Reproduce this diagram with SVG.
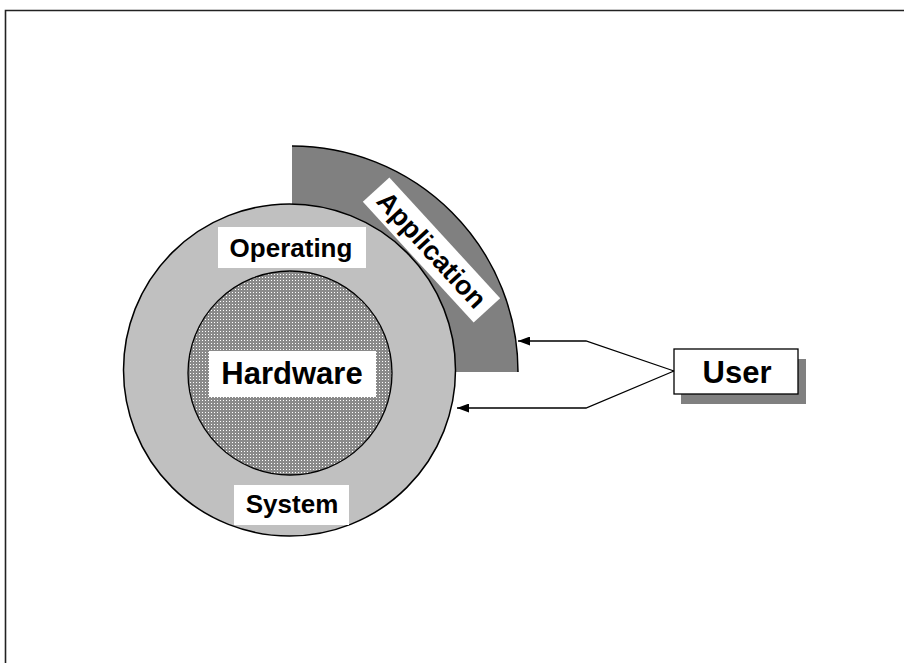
<svg xmlns="http://www.w3.org/2000/svg" width="904" height="663" viewBox="0 0 904 663">
  <defs>
    <pattern id="dots" width="3" height="3" patternUnits="userSpaceOnUse">
      <rect width="3" height="3" fill="#8a8a8a"/>
      <rect x="1" y="1" width="1" height="1" fill="#ffffff"/>
    </pattern>
    <marker id="arrow" viewBox="0 0 12 9" refX="12" refY="4.5" markerWidth="12" markerHeight="9" markerUnits="userSpaceOnUse" orient="auto">
      <path d="M0,0 L12,4.5 L0,9 Z" fill="#000"/>
    </marker>
    <style>
      .lbl { font-family: "Liberation Sans", Arial, sans-serif; font-weight: bold; fill: #000; text-anchor: middle; }
      .box { fill: #ffffff; }
      .edge { fill: none; stroke: #000; stroke-width: 1.3; }
    </style>
  </defs>
  <rect width="904" height="663" fill="#ffffff"/>
  <g id="frame">
    <path d="M5.5,663 L5.5,10.5 L904,10.5" fill="none" stroke="#222" stroke-width="1.6"/>
  </g>
  <g id="application">
    <path d="M292,372 L292,146 A226,226 0 0 1 518,372 Z" fill="#808080"/>
    <path d="M292,146 A226,226 0 0 1 518,372" fill="none" stroke="#000" stroke-width="1.5"/>
  </g>
  <g id="os">
    <circle cx="289.5" cy="370" r="166" fill="#c0c0c0" stroke="#000" stroke-width="1.5"/>
  </g>
  <g id="hardware">
    <circle cx="290" cy="373" r="102" fill="url(#dots)" stroke="#000" stroke-width="1.3"/>
    <rect class="box" x="209" y="351" width="167" height="46"/>
    <text class="lbl" x="292" y="384" font-size="31">Hardware</text>
  </g>
  <g id="os-labels">
    <rect class="box" x="218" y="227" width="148" height="41"/>
    <text class="lbl" x="291" y="257" font-size="26">Operating</text>
    <rect class="box" x="234" y="485" width="115" height="40"/>
    <text class="lbl" x="292" y="513" font-size="26">System</text>
  </g>
  <g id="application-label" transform="translate(431.5,250) rotate(47.5)">
    <rect class="box" x="-82" y="-18" width="164" height="36"/>
    <text class="lbl" x="0" y="9" font-size="27">Application</text>
  </g>
  <g id="user">
    <rect x="681" y="359" width="125" height="45" fill="#808080"/>
    <rect x="674" y="349" width="124" height="45" fill="#ffffff" stroke="#000" stroke-width="1.3"/>
    <text class="lbl" x="737" y="383" font-size="31">User</text>
  </g>
  <g id="connectors">
    <path class="edge" d="M674,371 L586,341 L518,341" marker-end="url(#arrow)"/>
    <path class="edge" d="M674,371 L586,408 L457,408" marker-end="url(#arrow)"/>
  </g>
</svg>
